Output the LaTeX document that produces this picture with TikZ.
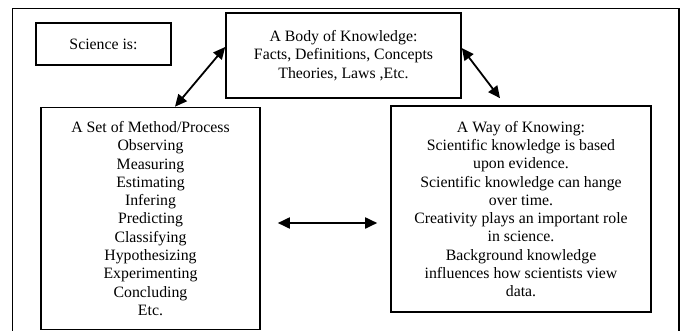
\documentclass[tikz,border=0pt]{standalone}
\usepackage{fontspec}
\setmainfont{Liberation Serif}
\usetikzlibrary{arrows.meta}
\begin{document}
\begin{tikzpicture}[x=1pt,y=-1pt,
  box/.style={draw, line width=1.6pt, align=center, inner sep=0pt,
    font=\fontsize{15.8}{18.3}\selectfont},
  arr/.style={line width=1.8pt, {Triangle[length=12pt,width=11pt]}-{Triangle[length=12pt,width=11pt]}}]
\useasboundingbox (0,0) rectangle (684,331);
\draw[line width=1.6pt] (12.5,332) -- (12.5,8.5) -- (679,8.5) -- (679,332);
\node[box, minimum width=135pt, minimum height=42pt] (sci) at (103.5,44) {Science is:};
\node[box, minimum width=235pt, minimum height=85pt] (body) at (343.5,55.5)
  {A Body of Knowledge:\\Facts, Definitions, Concepts\\Theories, Laws ,Etc.};
\node[box, minimum width=219pt, minimum height=222pt] (set) at (150.5,218.5)
  {A Set of Method/Process\\Observing\\Measuring\\Estimating\\Infering\\Predicting\\Classifying\\Hypothesizing\\Experimenting\\Concluding\\Etc.};
\node[box, minimum width=260pt, minimum height=206pt] (way) at (521,209)
  {A Way of Knowing:\\Scientific knowledge is based\\upon evidence.\\Scientific knowledge can hange\\over time.\\Creativity plays an important role\\in science.\\Background knowledge\\influences how scientists view\\data.};
\draw[arr] ([xshift=24.5pt]set.north) -- ([yshift=8.5pt]body.west);
\draw[arr] ([yshift=7.5pt]body.east) -- ([xshift=-21pt,yshift=7pt]way.north);
\draw[arr] ([xshift=17pt,yshift=-4.5pt]set.east) -- ([xshift=-13pt,yshift=-14pt]way.west);
\end{tikzpicture}
\end{document}
